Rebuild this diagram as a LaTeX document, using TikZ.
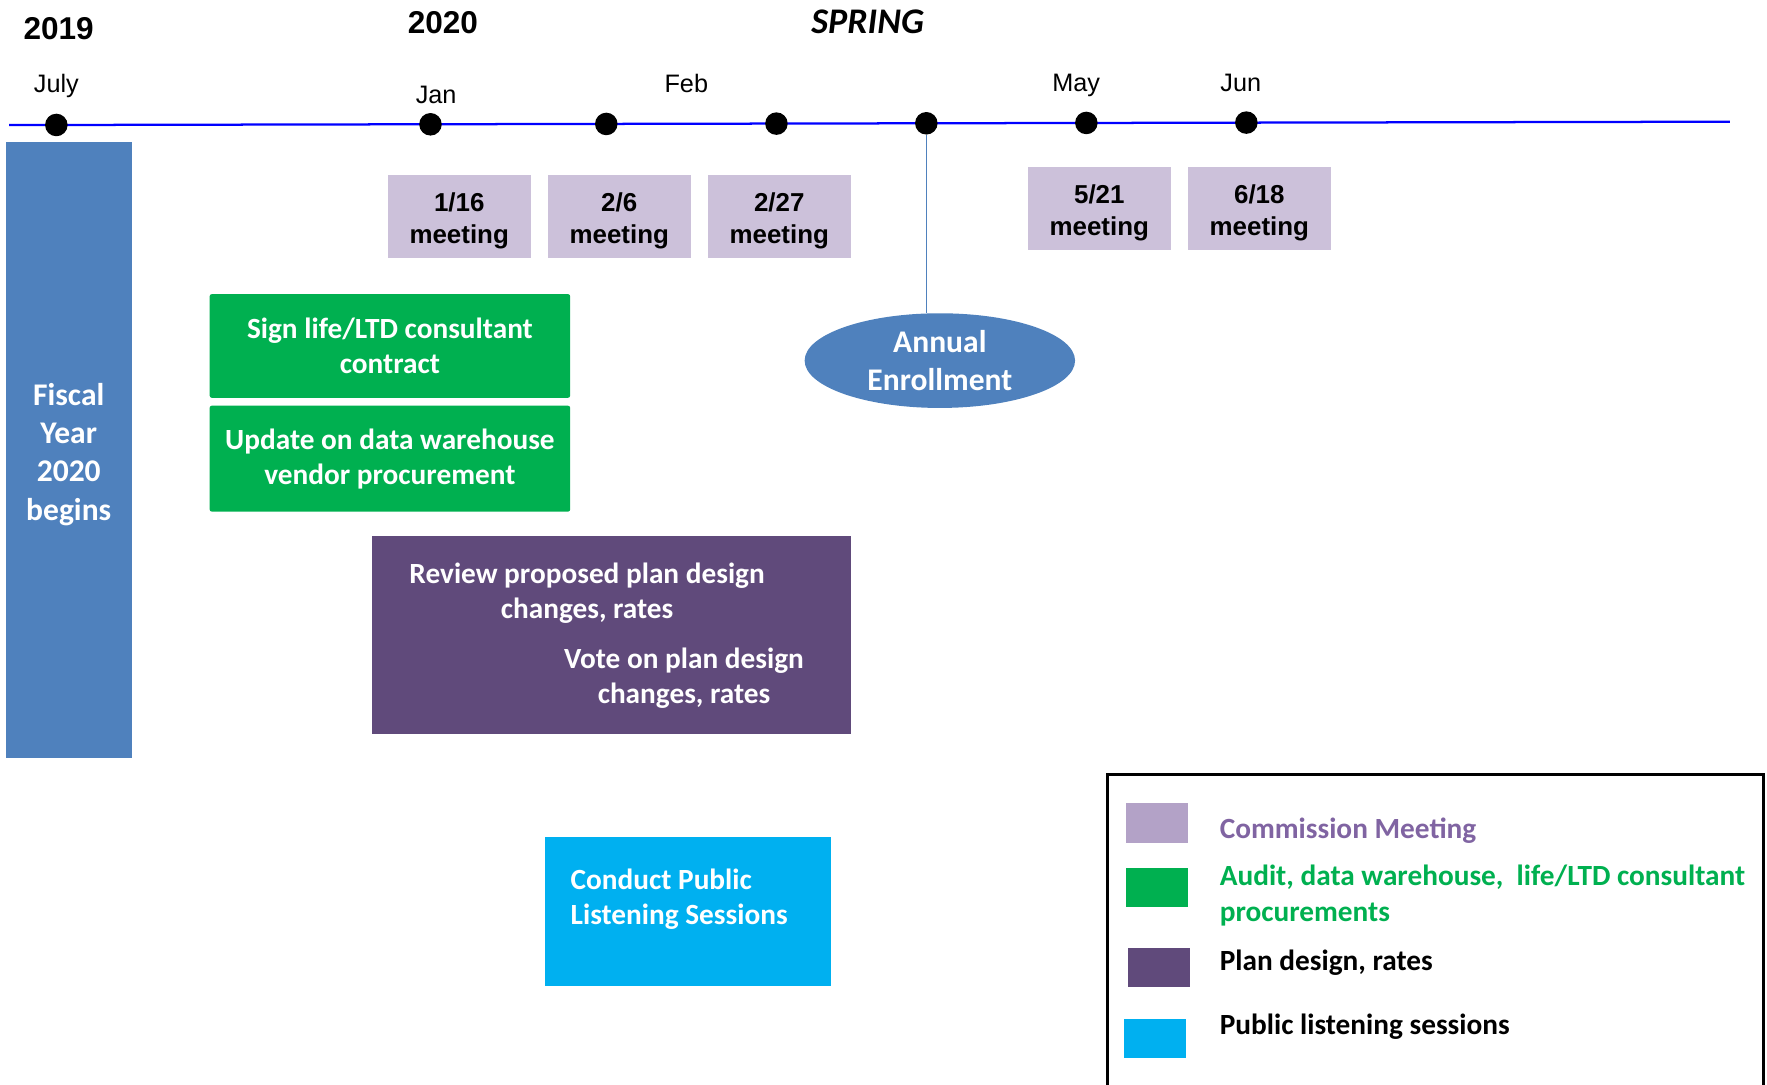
\documentclass[tikz,border=0pt]{standalone}
\usepackage{fontspec}
\setmainfont{Carlito}
\newfontfamily\arialfont{Liberation Sans}
\usetikzlibrary{shapes.geometric, positioning}

\definecolor{fyblue}{RGB}{79,129,189}
\definecolor{meetlav}{RGB}{204,193,218}
\definecolor{keylav}{RGB}{179,162,199}
\definecolor{procgreen}{RGB}{0,176,80}
\definecolor{planpurple}{RGB}{96,74,123}
\definecolor{listencyan}{RGB}{0,176,240}
\definecolor{keytext}{RGB}{128,100,162}

\tikzset{
  month/.style={font=\arialfont\fontsize{11.2}{13}\selectfont},
  year/.style={font=\arialfont\bfseries\fontsize{14}{16}\selectfont},
  tick/.style={circle, fill=black, inner sep=0pt, minimum size=10pt},
  meetbox/.style={fill=meetlav, minimum width=63.5pt, minimum height=37pt, inner sep=0pt,
    label={[yshift=-2pt, align=center, font=\arialfont\bfseries\fontsize{11.5}{14}\selectfont]center:#1}},
  taskbox/.style={fill=procgreen, text=white, rounded corners=1pt, minimum width=160pt,
    align=center, inner sep=0pt, font=\bfseries\fontsize{13}{15.5}\selectfont},
  whitetext/.style={text=white, align=center, font=\bfseries\fontsize{13}{15.5}\selectfont},
  swatch/.style={minimum width=27.5pt, minimum height=17.5pt, inner sep=0pt},
  keylabel/.style={anchor=west, align=left, inner sep=0pt, font=\bfseries\fontsize{13}{16}\selectfont}
}

\begin{document}
\begin{tikzpicture}[x=0.5pt, y=-0.5pt]
\useasboundingbox (0,0) rectangle (1568,962);

\node[year] (y2019) at (52,25) {2019};
\node[year] (y2020) at (393,20) {2020};
\node[font=\bfseries\itshape\fontsize{16}{18}\selectfont] (spring) at (770,19) {SPRING};

\draw[blue, line width=1pt] (8,111) -- (1535,108);
\path
  node[tick] (djul) at (50,110.9) {}
  node[tick] (djan) at (382,110.3) {}
  node[tick] (dfeba) at (538,110) {}
  node[tick] (dfebb) at (689,109.7) {}
  node[tick] (denr) at (822,109.4) {}
  node[tick] (dmay) at (964,109.1) {}
  node[tick] (djun) at (1106,108.8) {}
  ;
\node[month] (mjul) at (50,76) {July};
\node[month] (mjan) at (387,84) {Jan};
\node[month] (mfeb) at (609,74) {Feb};
\node[month] (mmay) at (955,76) {May};
\node[month] (mjun) at (1101,74) {Jun};

\node[fill=fyblue, minimum width=56pt, minimum height=273.5pt, inner sep=0pt] (fiscal) at (61,399.5) {};
\node[whitetext, font=\bfseries\fontsize{14}{17}\selectfont] (fytext) at (61,403) {Fiscal\\Year\\2020\\begins};

\node[meetbox={1/16\\meeting}] (m0116) at (407.5,192) {};
\node[meetbox={2/6\\meeting}] (m0206) at (549.5,192) {};
\node[meetbox={2/27\\meeting}] (m0227) at (691.5,192) {};
\node[meetbox={5/21\\meeting}] (m0521) at (975.5,185) {};
\node[meetbox={6/18\\meeting}] (m0618) at (1117.5,185) {};

\node[ellipse, fill=fyblue, text=white, minimum width=120pt, minimum height=42pt,
  inner sep=0pt, align=center, font=\bfseries\fontsize{14}{17}\selectfont]
  (enroll) at (834,320) {Annual\\Enrollment};
\draw[fyblue, line width=0.6pt] (denr) -- (denr |- enroll.north);

\node[taskbox, minimum height=46pt] (sign) at (346,307) {Sign life/LTD consultant\\contract};
\node[taskbox, minimum height=47pt] (update) at (346,407) {Update on data warehouse\\vendor procurement};

\node[fill=planpurple, minimum width=212.5pt, minimum height=87.5pt] (plan) at (542.5,563.5) {};
\node[whitetext] (review) at (521,526) {Review proposed plan design\\changes, rates};
\node[whitetext] (vote) at (607,602) {Vote on plan design\\changes, rates};

\node[fill=listencyan, minimum width=126.5pt, minimum height=66pt] (listen) at (610.5,809) {};
\node[whitetext, align=left, anchor=west, inner sep=0pt] (conduct) at (506,798) {Conduct Public\\Listening Sessions};

\draw[line width=1.5pt] (983,687) rectangle (1565,1000);
\node[swatch, fill=keylav] (kmeet) at (1026.5,730.5) {};
\node[swatch, fill=procgreen] (kproc) at (1026.5,787.5) {};
\node[swatch, fill=planpurple] (kplan) at (1028.5,858.5) {};
\node[swatch, fill=listencyan] (klisten) at (1024.5,921.5) {};
\node[keylabel, text=keytext] (tmeet) at (1082,737) {Commission Meeting};
\node[keylabel, text=procgreen] (tproc) at (1082,795) {Audit, data warehouse,~ life/LTD consultant\\procurements};
\node[keylabel] (tplan) at (1082,854) {Plan design, rates};
\node[keylabel] (tlisten) at (1082,911) {Public listening sessions};
\end{tikzpicture}
\end{document}
